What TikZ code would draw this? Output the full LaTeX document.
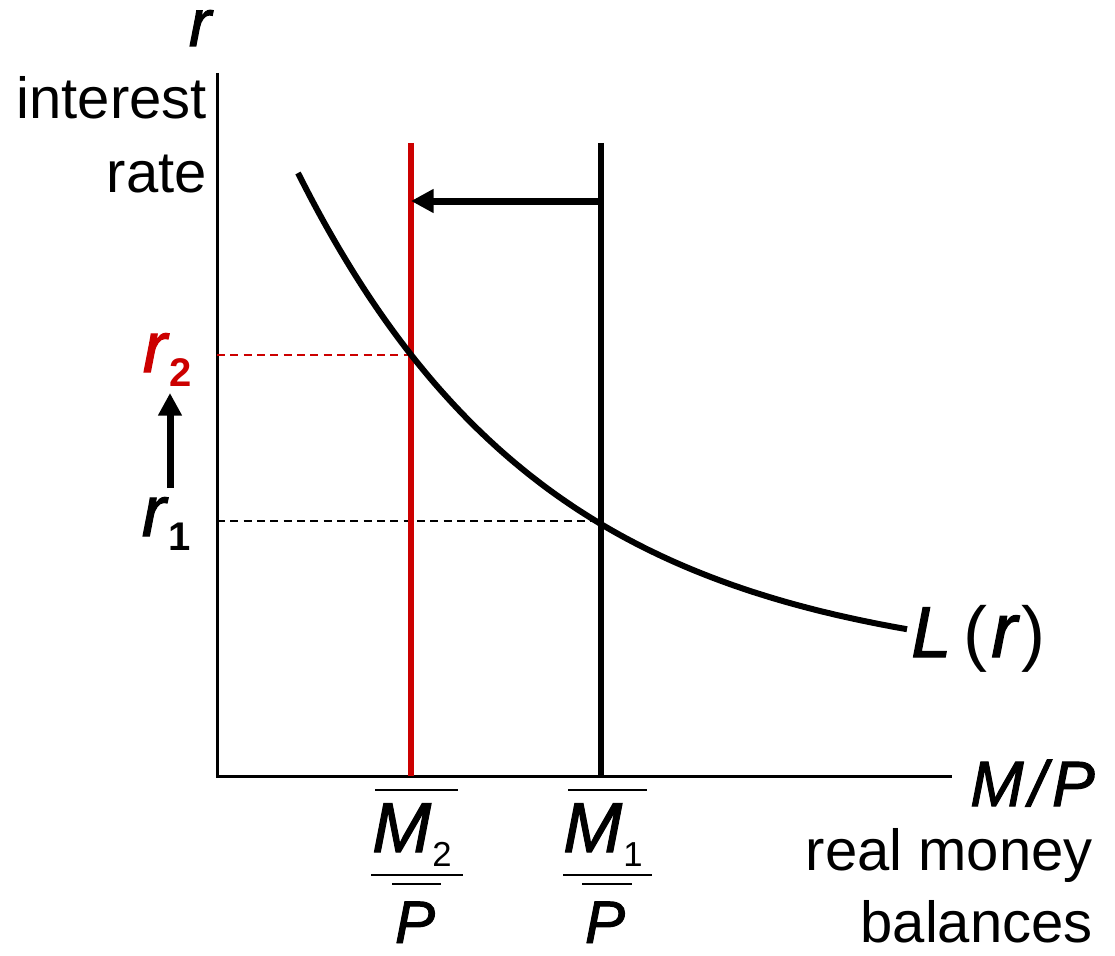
\documentclass[tikz,border=0pt]{standalone}
\usepackage{fontspec}
\setmainfont{Liberation Sans}
\newfontface\symit{Liberation Sans Italic}[FakeBold=1.6]
\usetikzlibrary{arrows.meta}
\definecolor{myred}{RGB}{204,0,0}
\newcommand{\pxf}[1]{\fontsize{#1}{#1}\selectfont}
\begin{document}
\begin{tikzpicture}[x=0.75pt,y=-0.75pt,
  lbl/.style={inner sep=0pt,font=\pxf{43.5}},
  sym/.style={inner sep=0pt},
  axis/.style={line width=2.25pt},
  supply/.style={line width=4.5pt},
  guide/.style={line width=1.1pt,dash pattern=on 6pt off 4pt},
  shiftarrow/.style={line width=5.25pt,-{Triangle[length=17pt,width=17pt]}},
  bar/.style={line width=2pt}]
\useasboundingbox (0,0) rectangle (1115,956);
% axes
\coordinate (O) at (217,776);
\coordinate (ytop) at (217,73);
\coordinate (xend) at (952,776);
\draw[axis] (ytop) -- (O) -- (xend);
% axis labels
\node[sym,anchor=base,font=\pxf{50}\symit,text height=0.55em] (ry) at (200,46) {r};
\node[lbl,anchor=base east] (int) at (207,118) {interest};
\node[lbl,anchor=base east] (rate) at (207,192) {rate};
\node[sym,anchor=base east,font=\pxf{48}\symit] (mp) at (1095,806) {M\hspace{4pt}/\hspace{4pt}P};
\node[lbl,anchor=base east] (real) at (1093,870) {real money};
\node[lbl,anchor=base east] (bal) at (1093,942) {balances};
% guides
\coordinate (r2a) at (217,355); \coordinate (e2) at (411,355);
\coordinate (r1a) at (217,521); \coordinate (e1) at (601,521);
\draw[guide,myred] (r2a) -- (e2);
\draw[guide] (r1a) -- (e1);
% money supply lines
\coordinate (s2top) at (411,143); \coordinate (s2bot) at (411,776);
\coordinate (s1top) at (601,143); \coordinate (s1bot) at (601,776);
\draw[supply,myred] (s2top) -- (s2bot);
\draw[supply] (s1top) -- (s1bot);
% demand curve
\draw[line width=4.5pt] plot[domain=298:907,samples=120,smooth] (\x,{673-500*exp(-0.004*(\x-298))});
\node[sym,anchor=base west,font=\pxf{54}] (Lr) at (911,657) {{\symit L}\hspace{9pt}(\hspace{3pt}{\pxf{58}\symit r}\hspace{3pt})};
% shift arrow
\coordinate (ha) at (601,201); \coordinate (hb) at (411,201);
\draw[shiftarrow] (ha) -- (hb);
% r labels
\node[sym,anchor=base east,font=\pxf{54},text=myred] (r2) at (192,372) {{\symit r}\hspace{2pt}\raisebox{-10.5pt}{\pxf{30}\bfseries 2}};
\node[sym,anchor=base east,font=\pxf{54}] (r1) at (191,536) {{\symit r}\hspace{2pt}\raisebox{-11pt}{\pxf{30}\bfseries 1}};
\coordinate (ua) at (170,488); \coordinate (ub) at (170,393);
\draw[shiftarrow] (ua) -- (ub);
% fraction M2/P
\node[sym,anchor=base west,font=\pxf{53}] (m2) at (372,852) {{\symit M}\hspace{1pt}\raisebox{-11pt}{\pxf{26}2}};
\node[sym,anchor=base,font=\pxf{45}\symit] (p2) at (415,943) {P};
\draw[bar] (375,790) -- (458,790);
\draw[bar] (371,875) -- (463,875);
\draw[bar] (392,884) -- (441,884);
% fraction M1/P
\node[sym,anchor=base west,font=\pxf{53}] (m1) at (563,852) {{\symit M}\hspace{1pt}\raisebox{-11pt}{\pxf{26}1}};
\node[sym,anchor=base,font=\pxf{45}\symit] (p1) at (605,943) {P};
\draw[bar] (568,790) -- (647,790);
\draw[bar] (563,875) -- (652,875);
\draw[bar] (582,884) -- (632,884);
\end{tikzpicture}
\end{document}
